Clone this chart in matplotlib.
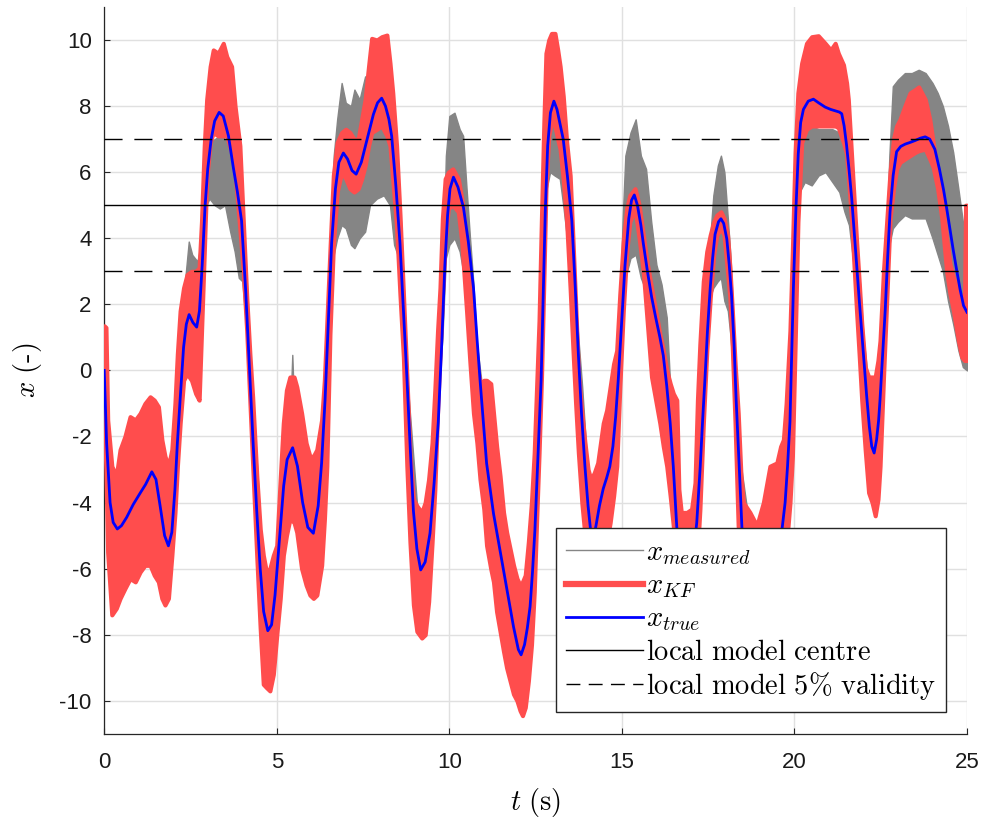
import matplotlib
matplotlib.use("Agg")
import matplotlib.pyplot as plt
from matplotlib.lines import Line2D

plt.rcParams['mathtext.fontset'] = 'cm'
plt.rcParams['axes.unicode_minus'] = False

# ---------------- data ----------------
t_true = [0.00, 0.07, 0.17, 0.26, 0.38, 0.50, 0.65, 0.84, 1.05, 1.20, 1.38, 1.50, 1.62, 1.75, 1.86, 1.96,
          2.05, 2.12, 2.20, 2.30, 2.38, 2.46, 2.57, 2.68, 2.76, 2.84, 2.92, 3.00, 3.10, 3.20, 3.33, 3.45,
          3.60, 3.74, 3.86, 3.98, 4.10, 4.22, 4.32, 4.42, 4.52, 4.62, 4.74, 4.85, 4.95, 5.09, 5.20, 5.30,
          5.46, 5.60, 5.75, 5.90, 6.06, 6.20, 6.30, 6.40, 6.50, 6.59, 6.70, 6.80, 6.93, 7.05, 7.18, 7.30,
          7.45, 7.61, 7.80, 7.92, 8.04, 8.15, 8.25, 8.33, 8.45, 8.57, 8.67, 8.77, 8.87, 8.96, 9.06, 9.17,
          9.30, 9.44, 9.56, 9.68, 9.78, 9.87, 9.95, 10.02, 10.12, 10.25, 10.41, 10.55, 10.70, 10.80, 10.89,
          11.08, 11.28, 11.57, 11.86, 12.00, 12.08, 12.18, 12.26, 12.34, 12.41, 12.48, 12.58, 12.66, 12.72,
          12.78, 12.85, 12.93, 13.03, 13.12, 13.20, 13.30, 13.42, 13.55, 13.65, 13.74, 13.83, 13.93, 14.02,
          14.10, 14.17, 14.25, 14.35, 14.46, 14.56, 14.65, 14.74, 14.82, 14.90, 15.00, 15.09, 15.20, 15.28,
          15.36, 15.45, 15.55, 15.62, 15.74, 15.86, 15.98, 16.10, 16.20, 16.30, 16.40, 16.49, 16.59, 16.70,
          16.80, 16.90, 17.00, 17.10, 17.17, 17.27, 17.34, 17.41, 17.48, 17.56, 17.63, 17.70, 17.80, 17.87,
          17.95, 18.04, 18.11, 18.18, 18.25, 18.31, 18.40, 18.48, 18.60, 18.75, 18.95, 19.15, 19.35, 19.50,
          19.63, 19.73, 19.80, 19.87, 19.92, 19.97, 20.04, 20.11, 20.18, 20.26, 20.40, 20.55, 20.70, 20.89,
          21.05, 21.18, 21.30, 21.37, 21.44, 21.51, 21.58, 21.66, 21.73, 21.80, 21.88, 21.95, 22.02, 22.09,
          22.17, 22.24, 22.31, 22.38, 22.44, 22.48, 22.55, 22.63, 22.70, 22.77, 22.86, 22.96, 23.08, 23.21,
          23.35, 23.50, 23.65, 23.79, 23.92, 24.07, 24.20, 24.32, 24.42, 24.51, 24.60, 24.70, 24.80, 24.90,
          25.00]
x_true = [0.0, -2.2, -4.0, -4.6, -4.8, -4.7, -4.45, -4.06, -3.7, -3.45, -3.07, -3.3, -4.1, -5.0, -5.31, -4.9,
          -3.6, -2.2, -0.88, 0.7, 1.4, 1.69, 1.45, 1.31, 1.8, 3.2, 4.93, 6.1, 7.0, 7.55, 7.81, 7.7,
          7.1, 6.15, 5.4, 4.53, 2.4, -0.2, -2.3, -4.26, -6.0, -7.3, -7.88, -7.7, -6.8, -4.93, -3.5, -2.7,
          -2.34, -2.9, -4.0, -4.75, -4.93, -4.1, -2.8, -0.88, 1.6, 3.85, 5.5, 6.3, 6.58, 6.4, 6.05, 5.94,
          6.3, 6.96, 7.75, 8.1, 8.24, 8.0, 7.6, 7.09, 5.6, 3.85, 1.8, -0.2, -2.4, -4.26, -5.4, -6.04,
          -5.8, -4.93, -3.4, -1.56, 0.8, 3.17, 4.7, 5.5, 5.85, 5.55, 4.93, 3.9, 2.5, 1.0, -0.29,
          -2.81, -4.33, -6.04, -7.76, -8.45, -8.61, -8.3, -7.8, -7.15, -6.1, -4.83, -2.31, -0.29, 2.2,
          4.8, 6.8, 7.8, 8.15, 7.9, 7.5, 7.0, 5.9, 4.53, 2.5, 0.47, -1.3, -2.91, -4.1,
          -4.9, -5.1, -4.7, -4.1, -3.58, -3.25, -2.91, -2.3, -1.4, -0.2, 1.6, 3.17, 4.6, 5.15,
          5.31, 5.0, 4.4, 3.85, 3.0, 2.23, 1.6, 1.01, 0.45, -0.47, -1.6, -2.91, -4.73, -6.2,
          -6.8, -6.9, -6.4, -5.3, -4.6, -2.91, -1.5, -0.2, 1.2, 2.5, 3.4, 4.12, 4.5, 4.59,
          4.45, 3.98, 3.2, 2.23, 0.8, -0.88, -2.91, -4.8, -6.5, -7.5, -7.8, -7.6, -6.8, -5.9,
          -4.9, -4.0, -2.9, -1.56, 0.5, 2.5, 4.8, 6.55, 7.5, 7.9, 8.15, 8.21, 8.1, 7.97,
          7.9, 7.86, 7.82, 7.77, 7.4, 6.82, 6.1, 5.2, 4.2, 3.17, 2.1, 1.15, 0.2, -0.74,
          -1.7, -2.3, -2.5, -2.1, -1.5, -0.88, 0.4, 1.82, 3.4, 4.8, 5.9, 6.62, 6.78, 6.85,
          6.9, 6.96, 7.03, 7.07, 7.0, 6.69, 6.1, 5.47, 4.85, 4.26, 3.65, 3.04, 2.45, 1.96,
          1.76]

# Kalman-filter estimate: lower / upper envelope of the noisy trace
t_kf = [0.00, 0.05, 0.10, 0.22, 0.35, 0.46, 0.60, 0.75, 0.90, 1.04, 1.18, 1.33, 1.45, 1.57, 1.67, 1.76,
        1.86, 1.96, 2.05, 2.12, 2.20, 2.30, 2.40, 2.53, 2.65, 2.75, 2.82, 2.90, 2.97, 3.07, 3.16, 3.30,
        3.45, 3.55, 3.69, 3.79, 3.93, 4.03, 4.13, 4.22, 4.30, 4.42, 4.52, 4.61, 4.70, 4.80, 4.90, 5.00,
        5.10, 5.19, 5.28, 5.38, 5.50, 5.58, 5.72, 5.85, 5.96, 6.06, 6.16, 6.30, 6.38, 6.45, 6.54, 6.64,
        6.75, 6.88, 7.00, 7.12, 7.24, 7.36, 7.46, 7.56, 7.66, 7.75, 7.90, 8.04, 8.19, 8.28, 8.36, 8.47,
        8.57, 8.67, 8.77, 8.86, 8.96, 9.06, 9.20, 9.30, 9.40, 9.50, 9.58, 9.66, 9.73, 9.80, 9.88, 9.97,
        10.10, 10.26, 10.36, 10.50, 10.60, 10.70, 10.80, 10.89, 11.00, 11.08, 11.20, 11.28, 11.37, 11.47,
        11.57, 11.66, 11.76, 11.86, 11.96, 12.05, 12.12, 12.20, 12.29, 12.38, 12.46, 12.53, 12.60, 12.67,
        12.74, 12.80, 12.88, 12.96, 13.06, 13.14, 13.21, 13.30, 13.40, 13.50, 13.58, 13.66, 13.74, 13.84,
        13.93, 14.02, 14.10, 14.20, 14.30, 14.46, 14.56, 14.66, 14.76, 14.85, 14.94, 15.04, 15.14, 15.23,
        15.38, 15.50, 15.62, 15.74, 15.86, 15.98, 16.10, 16.20, 16.30, 16.40, 16.49, 16.59, 16.65, 16.72,
        16.88, 17.02, 17.12, 17.19, 17.26, 17.36, 17.46, 17.56, 17.66, 17.75, 17.87, 17.96, 18.06, 18.13,
        18.20, 18.28, 18.37, 18.45, 18.52, 18.71, 18.91, 19.10, 19.29, 19.49, 19.60, 19.68, 19.76, 19.87,
        19.94, 20.02, 20.10, 20.21, 20.35, 20.50, 20.69, 20.89, 21.05, 21.18, 21.27, 21.42, 21.51, 21.56,
        21.66, 21.71, 21.80, 21.88, 21.95, 22.05, 22.15, 22.25, 22.34, 22.42, 22.48, 22.58, 22.68, 22.77,
        22.87, 22.96, 23.06, 23.20, 23.35, 23.50, 23.60, 23.79, 23.92, 24.02, 24.15, 24.27, 24.41, 24.51,
        24.61, 24.75, 24.85, 24.93, 24.96, 25.00]
kf_lo = [-1.5, -3.0, -5.5, -7.4, -7.2, -6.9, -6.6, -6.3, -6.4, -6.1, -5.9, -5.9, -6.2, -6.4, -6.9, -7.1,
         -6.9, -5.6, -4.3, -2.9, -1.6, -0.3, -0.1, -0.3, -0.7, -0.9, 1.2, 3.6, 5.8, 6.9, 7.2, 7.1,
         7.1, 7.1, 6.6, 6.0, 4.3, 3.0, 1.2, -0.9, -2.8, -5.6, -7.8, -9.5, -9.6, -9.7, -9.2, -8.0,
         -6.9, -5.6, -5.0, -4.5, -4.6, -4.9, -6.0, -6.5, -6.8, -6.9, -6.8, -5.9, -4.5, -2.9, 1.1, 3.8,
         5.4, 6.0, 5.8, 5.5, 5.4, 5.5, 5.8, 6.2, 6.8, 7.2, 7.3, 7.4, 7.1, 6.8, 5.8, 4.4,
         2.3, 0.4, -2.9, -5.2, -7.1, -7.9, -8.1, -8.0, -7.0, -5.2, -3.6, -1.2, 0.5, 2.3, 3.9, 4.9,
         5.0, 4.8, 3.9, 1.8, 0.2, -1.3, -2.2, -3.3, -4.2, -5.3, -6.0, -6.4, -7.3, -7.9,
         -8.5, -9.0, -9.4, -9.8, -10.0, -10.3, -10.45, -10.2, -9.4, -8.3, -6.7, -4.5, -2.5, -0.2,
         2.8, 5.5, 7.1, 7.5, 7.4, 7.0, 6.7, 5.8, 4.5, 2.5, 0.7, -1.0, -2.5, -4.0,
         -5.0, -6.3, -7.0, -6.8, -6.2, -5.6, -5.2, -4.6, -3.8, -2.9, -0.5, 1.8, 3.6, 4.5,
         4.9, 4.0, 3.0, 1.4, -0.2, -0.9, -1.6, -2.3, -2.9, -3.8, -4.7, -6.0, -7.3, -8.2,
         -8.6, -8.3, -7.0, -5.5, -4.2, -1.6, 0.6, 2.2, 3.5, 4.1, 4.3, 4.1, 3.0, 2.2,
         0.7, -1.6, -4.7, -6.0, -7.5, -9.0, -9.3, -9.2, -8.5, -7.8, -7.0, -6.3, -5.4, -4.0,
         -2.6, 0.8, 4.5, 6.9, 7.3, 7.4, 7.4, 7.4, 7.4, 7.4, 7.35, 6.9, 6.55, 5.9,
         4.5, 3.5, 1.8, 0.4, -0.9, -2.4, -3.7, -4.0, -4.4, -3.9, -2.9, -0.2, 2.3, 4.6,
         5.5, 6.1, 6.3, 6.4, 6.5, 6.6, 6.65, 6.7, 6.4, 6.15, 5.5, 4.6, 3.0, 2.3,
         1.8, 0.9, 0.4, 0.3, 0.3, 0.3]
kf_hi = [1.35, 1.3, -1.5, -2.9, -3.2, -2.4, -2.0, -1.4, -1.5, -1.3, -1.0, -0.8, -0.9, -1.1, -2.1, -2.6,
         -2.9, -2.4, -1.0, 0.5, 1.8, 2.5, 2.9, 3.0, 3.0, 3.1, 4.5, 6.8, 8.2, 9.2, 9.7, 9.6,
         9.9, 9.5, 9.2, 8.0, 6.8, 4.5, 2.2, 0.5, -0.8, -3.2, -4.8, -5.6, -6.1, -6.0, -5.6, -5.3,
         -3.3, -1.6, -0.6, -0.2, -0.2, -0.5, -1.3, -2.2, -2.6, -2.6, -2.4, -1.5, -0.3, 1.4, 3.6, 5.9,
         6.9, 7.2, 7.3, 7.2, 7.0, 7.0, 7.6, 8.2, 9.2, 10.05, 10.0, 10.1, 10.15, 9.3, 8.4, 6.8,
         4.7, 2.3, -0.2, -2.6, -3.9, -4.1, -4.3, -4.0, -3.3, -2.2, -0.6, 1.2, 2.5, 4.6, 5.8, 6.0,
         6.1, 5.8, 5.2, 3.9, 2.8, 1.5, 0.2, -0.4, -0.3, -0.3, -0.4, -1.3, -2.3, -3.2,
         -4.3, -4.9, -5.4, -5.9, -6.3, -6.5, -6.4, -6.2, -5.2, -4.0, -2.5, -0.5, 1.5, 4.6,
         7.5, 9.6, 10.0, 10.2, 10.2, 9.7, 9.2, 8.3, 6.9, 5.9, 4.0, 2.0, -0.1, -1.3,
         -2.2, -3.0, -3.3, -3.1, -2.8, -1.6, -1.2, -0.5, 0.2, 0.6, 2.3, 3.9, 4.9, 5.3,
         5.5, 5.0, 4.1, 3.2, 2.5, 1.8, 1.1, 0.6, 0.0, -0.4, -0.7, -0.9, -3.6, -4.3,
         -4.3, -4.2, -3.4, -0.9, 0.8, 2.7, 3.6, 4.1, 4.5, 4.7, 4.8, 4.6, 4.1, 3.1,
         1.8, 0.2, -1.3, -3.2, -4.0, -4.3, -4.7, -4.0, -2.9, -2.8, -2.3, -2.1, -1.0, 1.2,
         3.6, 6.6, 8.4, 9.3, 9.9, 10.1, 10.13, 9.9, 9.7, 9.9, 9.6, 9.25, 8.7, 8.2,
         6.4, 5.5, 3.9, 2.6, 1.4, 0.1, -0.2, -0.2, -0.2, 0.3, 0.9, 3.0, 4.6, 6.0,
         7.0, 7.4, 7.6, 8.0, 8.4, 8.5, 8.58, 8.2, 7.6, 6.9, 6.0, 5.2, 4.0, 3.2,
         2.8, 2.4, 2.2, 2.3, 5.0, 5.0]

# measured signal: lower / upper envelope of the noisy trace
t_meas = [0.00, 0.20, 0.60, 1.00, 1.40, 1.86, 2.05, 2.20, 2.35, 2.45, 2.55, 2.70, 2.80, 2.88, 2.96, 3.05,
          3.20, 3.35, 3.50, 3.65, 3.78, 3.90, 4.00, 4.10, 4.22, 4.35, 4.60, 4.74, 5.00, 5.20, 5.40, 5.45,
          5.50, 5.80, 6.06, 6.30, 6.45, 6.55, 6.65, 6.75, 6.88, 7.00, 7.15, 7.25, 7.40, 7.56, 7.70, 7.90,
          8.10, 8.28, 8.40, 8.50, 8.60, 8.70, 8.80, 9.17, 9.60, 9.80, 9.90, 10.00, 10.15, 10.30, 10.40,
          10.50, 10.60, 10.70, 10.80, 10.95, 11.50, 12.08, 12.50, 12.70, 12.82, 12.92, 13.05, 13.20, 13.30,
          13.40, 13.50, 13.58, 13.70, 13.85, 14.10, 14.60, 14.90, 15.02, 15.10, 15.25, 15.40, 15.55, 15.70,
          15.85, 16.00, 16.15, 16.30, 16.45, 16.90, 17.30, 17.45, 17.55, 17.65, 17.78, 17.87, 17.97, 18.07,
          18.15, 18.25, 18.40, 19.00, 19.70, 19.90, 19.98, 20.06, 20.15, 20.30, 20.50, 20.70, 20.90, 21.10,
          21.30, 21.45, 21.58, 21.68, 21.78, 21.90, 22.00, 22.31, 22.50, 22.65, 22.75, 22.85, 23.00, 23.20,
          23.40, 23.60, 23.80, 24.00, 24.15, 24.30, 24.45, 24.60, 24.75, 24.88, 25.00]
meas_lo = [-0.5, -4.5, -5.0, -4.5, -4.0, -5.5, -4.0, -1.5, 0.5, 1.0, 1.0, 1.0, 1.5, 3.5, 5.0, 5.2,
           5.0, 4.9, 5.0, 4.2, 3.6, 2.8, 2.7, 1.5, -0.5, -3.0, -7.0, -8.0, -6.0, -3.5, -3.0, -3.0,
           -3.0, -4.5, -5.0, -3.0, -0.5, 1.5, 3.5, 4.0, 4.4, 4.3, 3.8, 3.7, 4.0, 4.2, 5.0, 5.2,
           5.3, 5.0, 3.8, 3.5, 2.8, 0.5, -1.5, -6.5, -2.0, 1.0, 3.4, 3.8, 4.0, 3.6, 3.0,
           2.0, 0.9, 0.0, -1.0, -2.0, -6.0, -9.0, -5.0, 1.0, 5.5, 6.0, 5.9, 5.8, 5.0,
           4.1, 3.0, 1.6, 0.0, -2.0, -5.0, -3.5, -0.5, 1.5, 2.8, 3.4, 3.5, 2.8, 2.4,
           1.7, 1.4, 0.8, -0.5, -2.5, -7.0, -2.5, 0.5, 2.2, 2.5, 2.7, 2.8, 2.1, 1.8,
           1.0, -0.5, -3.0, -7.5, -4.0, -1.0, 2.0, 4.5, 5.4, 5.7, 5.6, 5.9, 6.0, 5.7,
           5.4, 4.8, 4.4, 3.5, 2.6, 1.2, -0.3, -2.6, -1.0, 2.0, 3.8, 4.3, 4.5, 4.7,
           4.6, 4.6, 4.6, 4.0, 3.5, 3.0, 2.1, 1.4, 0.6, 0.1, 0.0]
meas_hi = [0.5, -3.5, -3.5, -3.0, -2.5, -4.5, -2.5, 0.5, 2.8, 3.9, 3.5, 3.3, 3.8, 4.8, 6.2, 6.9,
           7.0, 7.1, 7.0, 7.0, 7.8, 6.5, 5.0, 3.3, 0.8, -1.5, -6.0, -7.0, -5.5, -2.5, -1.0, 0.47,
           -1.0, -3.5, -4.0, -2.0, 1.5, 4.0, 6.5, 7.6, 8.7, 8.1, 8.0, 8.5, 8.2, 8.9, 8.0, 7.9,
           7.9, 8.3, 7.8, 6.0, 4.5, 2.0, -0.5, -5.5, -1.0, 2.5, 6.5, 7.7, 7.8, 7.3, 7.1,
           5.5, 4.0, 2.6, 0.8, -0.5, -5.0, -8.0, -4.0, 3.0, 7.0, 7.3, 7.5, 7.6, 8.3,
           6.6, 5.4, 4.3, 1.5, -0.5, -4.5, -2.5, 0.5, 4.5, 6.5, 7.2, 7.6, 6.5, 6.1,
           4.5, 3.2, 2.6, 1.6, -1.5, -6.5, -1.5, 2.0, 3.9, 5.3, 6.2, 6.5, 6.0, 4.6,
           3.4, 1.0, -2.5, -7.0, -3.5, 0.5, 4.0, 6.0, 7.0, 7.4, 7.4, 7.3, 7.3, 7.3,
           7.2, 7.0, 6.8, 5.8, 4.3, 2.6, 1.0, -2.0, 0.0, 3.5, 6.5, 8.6, 8.8, 9.0,
           9.0, 9.1, 9.0, 8.7, 8.4, 8.0, 7.4, 6.6, 5.5, 4.5, 3.5]

centre = 5.0
validity = [3.0, 7.0]
x_ticks = [0, 5, 10, 15, 20, 25]
y_ticks = [-10, -8, -6, -4, -2, 0, 2, 4, 6, 8, 10]

# ---------------- styling ----------------
GRAY = '#858585'
RED = '#ff4d4d'
BLUE = '#0000ff'
AX_COL = '#262626'

fig = plt.figure(figsize=(9.84, 8.19), dpi=100)
ax = fig.add_axes([104.2 / 984, 1 - 733.8 / 819, 862.8 / 984, 726.8 / 819])

ax.fill_between(t_meas, meas_lo, meas_hi, color=GRAY, lw=1.0, edgecolor=GRAY, zorder=2)
ax.fill_between(t_kf, kf_lo, kf_hi, color=RED, lw=3.0, edgecolor=RED, zorder=3)
ax.plot(t_true, x_true, color=BLUE, lw=2.0, zorder=4)
ax.axhline(centre, color='k', lw=1.0, zorder=5)
for v in validity:
    ax.axhline(v, color='k', lw=1.0, dashes=(13, 8.5), zorder=5)

ax.set_xlim(0, 25)
ax.set_ylim(-11, 11)
ax.set_xticks(x_ticks)
ax.set_yticks(y_ticks)
ax.set_xticklabels([str(v) for v in x_ticks])
ax.set_yticklabels([str(v) for v in y_ticks])
ax.grid(True, color='#e0e0e0', lw=1.0, zorder=0)
ax.set_axisbelow(True)

for s in ['top', 'right']:
    ax.spines[s].set_visible(False)
for s in ['left', 'bottom']:
    ax.spines[s].set_color(AX_COL)
    ax.spines[s].set_linewidth(0.9)

ax.tick_params(direction='in', length=4.5, width=0.8, color=AX_COL,
               labelsize=16, labelcolor='#1a1a1a', pad=9)
ax.tick_params(axis='x', pad=13)
for lab in ax.get_xticklabels() + ax.get_yticklabels():
    lab.set_fontfamily('Liberation Sans')

ax.set_xlabel(r'$t\ (\mathrm{s})$', fontsize=20.5)
ax.set_ylabel(r'$x\ (\text{-})$', fontsize=20.5)
ax.xaxis.set_label_coords(0.5, -0.072)
ax.yaxis.set_label_coords(-0.070, 0.5)

handles = [
    Line2D([], [], color=GRAY, lw=1.0),
    Line2D([], [], color=RED, lw=4.5),
    Line2D([], [], color=BLUE, lw=2.0),
    Line2D([], [], color='k', lw=1.0),
    Line2D([], [], color='k', lw=1.0, dashes=(10, 6)),
]
labels = [r'$x_{measured}$', r'$x_{KF}$', r'$x_{true}$',
          r'$\mathrm{local\ model\ centre}$', r'$\mathrm{local\ model\ 5\%\ validity}$']
leg = ax.legend(handles, labels, loc='lower right', bbox_to_anchor=(0.9757, 0.030),
                borderaxespad=0.0, fontsize=20.5, frameon=True, fancybox=False,
                framealpha=1.0, edgecolor='#262626', handlelength=2.7, handletextpad=0.1,
                labelspacing=0.15, borderpad=0.35)
leg.get_frame().set_linewidth(1.0)
leg.set_zorder(10)

fig.savefig('out.png', dpi=100)
